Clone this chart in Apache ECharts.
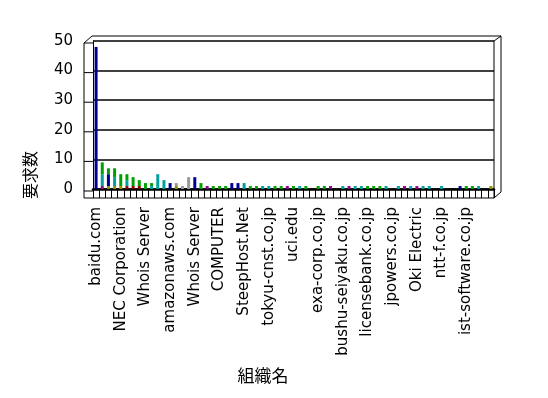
<!DOCTYPE html>
<html>
<head>
<meta charset="utf-8">
<script src="https://cdn.jsdelivr.net/npm/echarts@6/dist/echarts.min.js"></script>
<style>
  html, body { margin: 0; padding: 0; background: #fff; }
  #chart-container { width: 548px; height: 398px; }
</style>
</head>
<body>
<div id="chart-container"></div>
<script>
// 65 organisations, only every 4th name is printed on the axis
const categories = [
  'baidu.com', '', '', '', 'NEC Corporation', '', '', '', 'Whois Server', '', '', '',
  'amazonaws.com', '', '', '', 'Whois Server', '', '', '', 'COMPUTER', '', '', '',
  'SteepHost.Net', '', '', '', 'tokyu-cnst.co.jp', '', '', '', 'uci.edu', '', '', '',
  'exa-corp.co.jp', '', '', '', 'bushu-seiyaku.co.jp', '', '', '', 'licensebank.co.jp', '', '', '',
  'jpowers.co.jp', '', '', '', 'Oki Electric', '', '', '', 'ntt-f.co.jp', '', '', '',
  'ist-software.co.jp', '', '', '', ''
];

// stacked pieces, bottom to top
const purple = [
  0,1,0,0,0, 0,0,0,0,0, 0,0,0,0,0, 0,0,0,1,0, 0,0,0,0,0, 0,0,0,0,0, 0,1,0,0,0,
  0,0,0,1,0, 0,1,0,0,0, 0,0,0,0,0, 1,0,1,0,0, 0,0,0,0,0, 0,0,0,0,0
];
const maroon = [
  0,0,0,0,0, 1,1,1,0,0, 0,0,0,0,0, 0,0,0,0,0, 0,0,0,0,0, 0,0,0,0,0, 0,0,0,0,0,
  0,0,0,0,0, 0,0,0,0,0, 0,0,0,0,0, 0,0,0,0,0, 0,0,0,0,0, 0,0,0,0,0
];
const olive = [
  0,0,1,1,1, 0,0,0,0,0, 0,0,0,1,0, 0,0,0,0,0, 0,0,0,0,0, 0,0,0,0,0, 0,0,0,0,0,
  0,0,0,0,0, 0,0,0,0,0, 0,0,0,0,0, 0,0,0,0,0, 0,0,0,0,0, 0,0,0,0,1
];
const gray = [
  0,0,0,0,0, 0,0,0,0,0, 0,0,0,1,1, 4,0,0,0,0, 0,0,0,0,0, 0,0,0,0,0, 0,0,0,0,0,
  0,0,0,0,0, 0,0,0,0,0, 0,0,0,0,0, 0,0,0,0,0, 0,0,0,0,0, 0,0,0,0,0
];
const navy = [
  48,0,4,0,0, 0,0,0,0,0, 0,0,2,0,0, 0,4,0,0,0, 0,0,2,2,0, 0,0,0,0,0, 0,0,0,0,0,
  0,0,0,0,0, 0,0,0,0,0, 0,0,0,0,0, 0,0,0,0,0, 0,0,0,0,1, 0,0,0,0,0
];
const teal = [
  0,4,0,3,0, 2,0,0,0,1, 5,3,0,0,0, 0,0,0,0,0, 0,0,0,0,2, 0,0,1,1,0, 0,0,0,1,0,
  0,0,0,0,0, 1,0,1,1,0, 0,0,1,0,1, 0,1,0,1,1, 0,1,0,0,0, 0,0,1,0,0
];
const green = [
  0,4,2,3,4, 2,3,2,2,1, 0,0,0,0,0, 0,0,2,0,1, 1,1,0,0,0, 1,1,0,0,1, 1,0,1,0,1,
  0,1,1,0,0, 0,0,0,0,1, 1,1,0,0,0, 0,0,0,0,0, 0,0,0,0,0, 1,1,0,0,0
];

const yTicks = [0, 10, 20, 30, 40, 50];

const pieces = [
  { name: 'purple', data: purple, color: '#900090' },
  { name: 'maroon', data: maroon, color: '#900000' },
  { name: 'olive', data: olive, color: '#909000' },
  { name: 'gray', data: gray, color: '#9a9a9a' },
  { name: 'navy', data: navy, color: '#000090' },
  { name: 'teal', data: teal, color: '#00a0a0' },
  { name: 'green', data: green, color: '#00a000' }
];

// plot box of the back wall
const G = { l: 93, t: 41, r: 494, b: 189 };

const chart = echarts.init(document.getElementById('chart-container'));

const option = {
  animation: false,
  backgroundColor: '#fff',
  grid: { left: G.l, top: G.t, right: 548 - G.r, bottom: 398 - G.b },
  xAxis: {
    type: 'category',
    data: categories,
    axisLine: { lineStyle: { color: '#000', width: 2.5 } },
    axisTick: { show: true, interval: 0, length: 9, lineStyle: { color: '#000', width: 1 } },
    axisLabel: {
      interval: 3, rotate: 90, margin: 18, color: '#000',
      fontFamily: 'DejaVu Sans', fontSize: 15
    }
  },
  yAxis: {
    type: 'value',
    min: yTicks[0],
    max: yTicks[yTicks.length - 1],
    interval: 10,
    axisLine: { show: true, lineStyle: { color: '#000', width: 1 } },
    axisTick: { show: false },
    splitLine: { lineStyle: { color: '#000', width: 1.5 } },
    axisLabel: {
      margin: 20, color: '#000', fontFamily: 'DejaVu Sans', fontSize: 15,
      padding: [4, 0, 0, 0]
    }
  },
  series: pieces.map(p => ({
    name: p.name,
    type: 'bar',
    stack: 'total',
    barWidth: 3,
    data: p.data,
    itemStyle: { color: p.color }
  }))
};

chart.setOption(option);

// 3D frame decoration around the plot
const line = (x1, y1, x2, y2, w) => ({
  type: 'line', silent: true,
  shape: { x1, y1, x2, y2 },
  style: { stroke: '#000', lineWidth: w || 1 }
});

const frame = [
  line(84, 43, 84, 198),
  line(84, 43, 92, 36),
  line(92, 36, 501, 36),
  line(G.r, G.t, 501, 36),
  line(G.r, G.t, G.r, G.b),
  line(501, 36, 501, 192),
  line(84, 198, G.r, 198),
  line(G.r, 198, 501, 192),
  line(G.r, G.b, G.r, 198)
];
yTicks.forEach(v => {
  const y = chart.convertToPixel({ yAxisIndex: 0 }, v) + 2;
  frame.push(line(84, y, G.l, y));
});

frame.push({
  type: 'text', x: 30, y: 175, rotation: Math.PI / 2,
  style: { text: '要求数', fill: '#000', font: '16px "Noto Sans CJK JP"', textAlign: 'center', textVerticalAlign: 'middle' }
});
frame.push({
  type: 'text', x: 263, y: 376,
  style: { text: '組織名', fill: '#000', font: '17px "Noto Sans CJK JP"', textAlign: 'center', textVerticalAlign: 'middle' }
});

chart.setOption({ graphic: frame });
</script>
</body>
</html>
